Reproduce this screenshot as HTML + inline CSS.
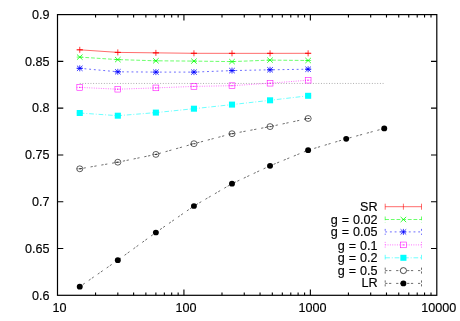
<!DOCTYPE html>
<html><head><meta charset="utf-8"><title>plot</title>
<style>html,body{margin:0;padding:0;background:#fff;width:460px;height:321px;overflow:hidden;font-family:"Liberation Sans",sans-serif}</style></head>
<body>
<svg width="460" height="321" viewBox="0 0 460 321" style="position:absolute;left:0;top:0;will-change:transform">
<rect width="460" height="321" fill="#fff"/>
<path d="M79.76,83.45H384.25" stroke="#000" stroke-opacity="0.75" stroke-width="0.45" stroke-dasharray="0.94,1.74" fill="none"/>
<polyline points="79.76,49.80 117.82,52.40 155.88,52.85 193.94,53.30 232.00,53.35 270.06,53.35 308.13,53.30" stroke="#ff0000" stroke-width="0.58" fill="none"/>
<polyline points="79.76,57.10 117.82,59.60 155.88,60.80 193.94,61.10 232.00,61.60 270.06,60.10 308.13,60.50" stroke="#00ff00" stroke-width="0.58" fill="none" stroke-dasharray="3.77,1.89"/>
<polyline points="79.76,68.30 117.82,71.80 155.88,72.10 193.94,72.10 232.00,70.60 270.06,69.80 308.13,69.20" stroke="#0000ff" stroke-width="0.58" fill="none" stroke-dasharray="1.89,2.83"/>
<polyline points="79.76,87.40 117.82,89.20 155.88,87.90 193.94,86.40 232.00,85.70 270.06,83.20 308.13,80.20" stroke="#ff00ff" stroke-width="0.58" fill="none" stroke-dasharray="0.94,1.41"/>
<polyline points="79.76,113.00 117.82,115.70 155.88,112.60 193.94,108.70 232.00,104.60 270.06,100.30 308.13,95.80" stroke="#00ffff" stroke-width="0.58" fill="none" stroke-dasharray="4.71,1.89,0.94,1.89"/>
<polyline points="79.76,168.80 117.82,162.20 155.88,154.40 193.94,143.70 232.00,133.70 270.06,126.60 308.13,118.50" stroke="#000000" stroke-width="0.58" fill="none" stroke-dasharray="2.25,1.6,2.25,4.84"/>
<polyline points="79.76,286.70 117.82,260.20 155.88,232.50 193.94,206.00 232.00,183.70 270.06,165.80 308.13,150.20 346.19,138.80 384.25,128.45" stroke="#000000" stroke-width="0.58" fill="none" stroke-dasharray="2.25,1.6,2.25,4.84"/>
<path d="M76.71,49.80h6.10M114.77,52.40h6.10M152.83,52.85h6.10M190.89,53.30h6.10M228.95,53.35h6.10M267.01,53.35h6.10M305.08,53.30h6.10" stroke="#ff0000" stroke-width="0.58" fill="none"/>
<path d="M76.71,57.10h6.10M114.77,59.60h6.10M152.83,60.80h6.10M190.89,61.10h6.10M228.95,61.60h6.10M267.01,60.10h6.10M305.08,60.50h6.10" stroke="#00ff00" stroke-width="0.58" fill="none"/>
<path d="M76.71,68.30h6.10M114.77,71.80h6.10M152.83,72.10h6.10M190.89,72.10h6.10M228.95,70.60h6.10M267.01,69.80h6.10M305.08,69.20h6.10" stroke="#0000ff" stroke-width="0.58" fill="none"/>
<path d="M76.71,87.40h6.10M114.77,89.20h6.10M152.83,87.90h6.10M190.89,86.40h6.10M228.95,85.70h6.10M267.01,83.20h6.10M305.08,80.20h6.10" stroke="#ff00ff" stroke-width="0.58" stroke-dasharray="0.94,1.41" fill="none"/>
<path d="M76.71,113.00h6.10M114.77,115.70h6.10M152.83,112.60h6.10M190.89,108.70h6.10M228.95,104.60h6.10M267.01,100.30h6.10M305.08,95.80h6.10" stroke="#00ffff" stroke-width="0.58" fill="none"/>
<path d="M76.71,168.80h6.10M114.77,162.20h6.10M152.83,154.40h6.10M190.89,143.70h6.10M228.95,133.70h6.10M267.01,126.60h6.10M305.08,118.50h6.10" stroke="#000000" stroke-width="0.5" stroke-dasharray="1.9,1.2" fill="none"/>
<path d="M76.71,49.80H82.81M79.76,46.80V52.80" stroke="#ff0000" stroke-width="0.78" fill="none"/>
<path d="M114.77,52.40H120.87M117.82,49.40V55.40" stroke="#ff0000" stroke-width="0.78" fill="none"/>
<path d="M152.83,52.85H158.93M155.88,49.85V55.85" stroke="#ff0000" stroke-width="0.78" fill="none"/>
<path d="M190.89,53.30H196.99M193.94,50.30V56.30" stroke="#ff0000" stroke-width="0.78" fill="none"/>
<path d="M228.95,53.35H235.05M232.00,50.35V56.35" stroke="#ff0000" stroke-width="0.78" fill="none"/>
<path d="M267.01,53.35H273.11M270.06,50.35V56.35" stroke="#ff0000" stroke-width="0.78" fill="none"/>
<path d="M305.08,53.30H311.18M308.13,50.30V56.30" stroke="#ff0000" stroke-width="0.78" fill="none"/>
<path d="M76.96,54.50L82.56,59.70M76.96,59.70L82.56,54.50" stroke="#00ff00" stroke-width="0.78" fill="none"/>
<path d="M115.02,57.00L120.62,62.20M115.02,62.20L120.62,57.00" stroke="#00ff00" stroke-width="0.78" fill="none"/>
<path d="M153.08,58.20L158.68,63.40M153.08,63.40L158.68,58.20" stroke="#00ff00" stroke-width="0.78" fill="none"/>
<path d="M191.14,58.50L196.74,63.70M191.14,63.70L196.74,58.50" stroke="#00ff00" stroke-width="0.78" fill="none"/>
<path d="M229.20,59.00L234.80,64.20M229.20,64.20L234.80,59.00" stroke="#00ff00" stroke-width="0.78" fill="none"/>
<path d="M267.26,57.50L272.86,62.70M267.26,62.70L272.86,57.50" stroke="#00ff00" stroke-width="0.78" fill="none"/>
<path d="M305.33,57.90L310.93,63.10M305.33,63.10L310.93,57.90" stroke="#00ff00" stroke-width="0.78" fill="none"/>
<path d="M76.71,68.30H82.81M79.76,65.30V71.30" stroke="#0000ff" stroke-width="0.78" fill="none"/><path d="M76.96,65.70L82.56,70.90M76.96,70.90L82.56,65.70" stroke="#0000ff" stroke-width="0.78" fill="none"/>
<path d="M114.77,71.80H120.87M117.82,68.80V74.80" stroke="#0000ff" stroke-width="0.78" fill="none"/><path d="M115.02,69.20L120.62,74.40M115.02,74.40L120.62,69.20" stroke="#0000ff" stroke-width="0.78" fill="none"/>
<path d="M152.83,72.10H158.93M155.88,69.10V75.10" stroke="#0000ff" stroke-width="0.78" fill="none"/><path d="M153.08,69.50L158.68,74.70M153.08,74.70L158.68,69.50" stroke="#0000ff" stroke-width="0.78" fill="none"/>
<path d="M190.89,72.10H196.99M193.94,69.10V75.10" stroke="#0000ff" stroke-width="0.78" fill="none"/><path d="M191.14,69.50L196.74,74.70M191.14,74.70L196.74,69.50" stroke="#0000ff" stroke-width="0.78" fill="none"/>
<path d="M228.95,70.60H235.05M232.00,67.60V73.60" stroke="#0000ff" stroke-width="0.78" fill="none"/><path d="M229.20,68.00L234.80,73.20M229.20,73.20L234.80,68.00" stroke="#0000ff" stroke-width="0.78" fill="none"/>
<path d="M267.01,69.80H273.11M270.06,66.80V72.80" stroke="#0000ff" stroke-width="0.78" fill="none"/><path d="M267.26,67.20L272.86,72.40M267.26,72.40L272.86,67.20" stroke="#0000ff" stroke-width="0.78" fill="none"/>
<path d="M305.08,69.20H311.18M308.13,66.20V72.20" stroke="#0000ff" stroke-width="0.78" fill="none"/><path d="M305.33,66.60L310.93,71.80M305.33,71.80L310.93,66.60" stroke="#0000ff" stroke-width="0.78" fill="none"/>
<rect x="76.86" y="84.55" width="5.8" height="5.7" stroke="#ff00ff" stroke-width="0.55" fill="none"/><rect x="79.26" y="86.90" width="1" height="1" fill="#ff00ff"/>
<rect x="114.92" y="86.35" width="5.8" height="5.7" stroke="#ff00ff" stroke-width="0.55" fill="none"/><rect x="117.32" y="88.70" width="1" height="1" fill="#ff00ff"/>
<rect x="152.98" y="85.05" width="5.8" height="5.7" stroke="#ff00ff" stroke-width="0.55" fill="none"/><rect x="155.38" y="87.40" width="1" height="1" fill="#ff00ff"/>
<rect x="191.04" y="83.55" width="5.8" height="5.7" stroke="#ff00ff" stroke-width="0.55" fill="none"/><rect x="193.44" y="85.90" width="1" height="1" fill="#ff00ff"/>
<rect x="229.10" y="82.85" width="5.8" height="5.7" stroke="#ff00ff" stroke-width="0.55" fill="none"/><rect x="231.50" y="85.20" width="1" height="1" fill="#ff00ff"/>
<rect x="267.16" y="80.35" width="5.8" height="5.7" stroke="#ff00ff" stroke-width="0.55" fill="none"/><rect x="269.56" y="82.70" width="1" height="1" fill="#ff00ff"/>
<rect x="305.23" y="77.35" width="5.8" height="5.7" stroke="#ff00ff" stroke-width="0.55" fill="none"/><rect x="307.63" y="79.70" width="1" height="1" fill="#ff00ff"/>
<rect x="76.71" y="110.00" width="6.1" height="6.00" fill="#00ffff"/>
<rect x="114.77" y="112.70" width="6.1" height="6.00" fill="#00ffff"/>
<rect x="152.83" y="109.60" width="6.1" height="6.00" fill="#00ffff"/>
<rect x="190.89" y="105.70" width="6.1" height="6.00" fill="#00ffff"/>
<rect x="228.95" y="101.60" width="6.1" height="6.00" fill="#00ffff"/>
<rect x="267.01" y="97.30" width="6.1" height="6.00" fill="#00ffff"/>
<rect x="305.08" y="92.80" width="6.1" height="6.00" fill="#00ffff"/>
<ellipse cx="79.76" cy="168.80" rx="3.05" ry="2.95" stroke="#000000" stroke-width="0.62" fill="none"/><rect x="79.26" y="168.30" width="1" height="1" fill="#000000"/>
<ellipse cx="117.82" cy="162.20" rx="3.05" ry="2.95" stroke="#000000" stroke-width="0.62" fill="none"/><rect x="117.32" y="161.70" width="1" height="1" fill="#000000"/>
<ellipse cx="155.88" cy="154.40" rx="3.05" ry="2.95" stroke="#000000" stroke-width="0.62" fill="none"/><rect x="155.38" y="153.90" width="1" height="1" fill="#000000"/>
<ellipse cx="193.94" cy="143.70" rx="3.05" ry="2.95" stroke="#000000" stroke-width="0.62" fill="none"/><rect x="193.44" y="143.20" width="1" height="1" fill="#000000"/>
<ellipse cx="232.00" cy="133.70" rx="3.05" ry="2.95" stroke="#000000" stroke-width="0.62" fill="none"/><rect x="231.50" y="133.20" width="1" height="1" fill="#000000"/>
<ellipse cx="270.06" cy="126.60" rx="3.05" ry="2.95" stroke="#000000" stroke-width="0.62" fill="none"/><rect x="269.56" y="126.10" width="1" height="1" fill="#000000"/>
<ellipse cx="308.13" cy="118.50" rx="3.05" ry="2.95" stroke="#000000" stroke-width="0.62" fill="none"/><rect x="307.63" y="118.00" width="1" height="1" fill="#000000"/>
<ellipse cx="79.76" cy="286.70" rx="2.95" ry="2.85" fill="#000000"/>
<ellipse cx="117.82" cy="260.20" rx="2.95" ry="2.85" fill="#000000"/>
<ellipse cx="155.88" cy="232.50" rx="2.95" ry="2.85" fill="#000000"/>
<ellipse cx="193.94" cy="206.00" rx="2.95" ry="2.85" fill="#000000"/>
<ellipse cx="232.00" cy="183.70" rx="2.95" ry="2.85" fill="#000000"/>
<ellipse cx="270.06" cy="165.80" rx="2.95" ry="2.85" fill="#000000"/>
<ellipse cx="308.13" cy="150.20" rx="2.95" ry="2.85" fill="#000000"/>
<ellipse cx="346.19" cy="138.80" rx="2.95" ry="2.85" fill="#000000"/>
<ellipse cx="384.25" cy="128.45" rx="2.95" ry="2.85" fill="#000000"/>
<rect x="57.5" y="14.6" width="379.30" height="280.70" stroke="#000" stroke-width="1.2" fill="none"/>
<path d="M95.56,295.3v-2.9M95.56,14.6v2.9M117.82,295.3v-2.9M117.82,14.6v2.9M133.62,295.3v-2.9M133.62,14.6v2.9M145.87,295.3v-2.9M145.87,14.6v2.9M155.88,295.3v-2.9M155.88,14.6v2.9M164.35,295.3v-2.9M164.35,14.6v2.9M171.68,295.3v-2.9M171.68,14.6v2.9M178.15,295.3v-2.9M178.15,14.6v2.9M183.93,295.3v-5.8M183.93,14.6v5.8M221.99,295.3v-2.9M221.99,14.6v2.9M244.26,295.3v-2.9M244.26,14.6v2.9M260.05,295.3v-2.9M260.05,14.6v2.9M272.31,295.3v-2.9M272.31,14.6v2.9M282.32,295.3v-2.9M282.32,14.6v2.9M290.78,295.3v-2.9M290.78,14.6v2.9M298.11,295.3v-2.9M298.11,14.6v2.9M304.58,295.3v-2.9M304.58,14.6v2.9M310.37,295.3v-5.8M310.37,14.6v5.8M348.43,295.3v-2.9M348.43,14.6v2.9M370.69,295.3v-2.9M370.69,14.6v2.9M386.49,295.3v-2.9M386.49,14.6v2.9M398.74,295.3v-2.9M398.74,14.6v2.9M408.75,295.3v-2.9M408.75,14.6v2.9M417.22,295.3v-2.9M417.22,14.6v2.9M424.55,295.3v-2.9M424.55,14.6v2.9M431.01,295.3v-2.9M431.01,14.6v2.9M57.5,248.52h5.8M436.8,248.52h-5.8M57.5,201.73h5.8M436.8,201.73h-5.8M57.5,154.95h5.8M436.8,154.95h-5.8M57.5,108.17h5.8M436.8,108.17h-5.8M57.5,61.38h5.8M436.8,61.38h-5.8" stroke="#000" stroke-width="1.1" fill="none"/>
<text x="49.5" y="299.5" text-anchor="end" font-family="Liberation Sans, sans-serif" font-size="12.6" fill="#000" stroke="#000" stroke-width="0.15">0.6</text>
<text x="49.5" y="252.7" text-anchor="end" font-family="Liberation Sans, sans-serif" font-size="12.6" fill="#000" stroke="#000" stroke-width="0.15">0.65</text>
<text x="49.5" y="205.9" text-anchor="end" font-family="Liberation Sans, sans-serif" font-size="12.6" fill="#000" stroke="#000" stroke-width="0.15">0.7</text>
<text x="49.5" y="159.1" text-anchor="end" font-family="Liberation Sans, sans-serif" font-size="12.6" fill="#000" stroke="#000" stroke-width="0.15">0.75</text>
<text x="49.5" y="112.4" text-anchor="end" font-family="Liberation Sans, sans-serif" font-size="12.6" fill="#000" stroke="#000" stroke-width="0.15">0.8</text>
<text x="49.5" y="65.6" text-anchor="end" font-family="Liberation Sans, sans-serif" font-size="12.6" fill="#000" stroke="#000" stroke-width="0.15">0.85</text>
<text x="49.5" y="18.8" text-anchor="end" font-family="Liberation Sans, sans-serif" font-size="12.6" fill="#000" stroke="#000" stroke-width="0.15">0.9</text>
<text x="59.5" y="312.2" text-anchor="middle" font-family="Liberation Sans, sans-serif" font-size="12.6" fill="#000" stroke="#000" stroke-width="0.15">10</text>
<text x="185.9" y="312.2" text-anchor="middle" font-family="Liberation Sans, sans-serif" font-size="12.6" fill="#000" stroke="#000" stroke-width="0.15">100</text>
<text x="312.4" y="312.2" text-anchor="middle" font-family="Liberation Sans, sans-serif" font-size="12.6" fill="#000" stroke="#000" stroke-width="0.15">1000</text>
<text x="438.8" y="312.2" text-anchor="middle" font-family="Liberation Sans, sans-serif" font-size="12.6" fill="#000" stroke="#000" stroke-width="0.15">10000</text>
<text word-spacing="0.45" x="377.5" y="210.6" text-anchor="end" font-family="Liberation Sans, sans-serif" font-size="12.6" fill="#000" stroke="#000" stroke-width="0.15">SR</text>
<path d="M385.2,206.7H421.5M385.2,203.7v6M421.5,203.7v6" stroke="#ff0000" stroke-width="0.58" fill="none"/>
<path d="M403.4,203.7v6" stroke="#ff0000" stroke-width="0.58" fill="none"/>
<text word-spacing="0.45" x="377.5" y="224.3" text-anchor="end" font-family="Liberation Sans, sans-serif" font-size="12.6" fill="#000" stroke="#000" stroke-width="0.15">g = 0.02</text>
<path d="M385.2,219.5H421.5M385.2,216.5v6M421.5,216.5v6" stroke="#00ff00" stroke-width="0.58" fill="none" stroke-dasharray="3.77,1.89"/>
<path d="M400.60,216.90L406.20,222.10M400.60,222.10L406.20,216.90" stroke="#00ff00" stroke-width="0.78" fill="none"/>
<text word-spacing="0.45" x="377.5" y="236.2" text-anchor="end" font-family="Liberation Sans, sans-serif" font-size="12.6" fill="#000" stroke="#000" stroke-width="0.15">g = 0.05</text>
<path d="M385.2,231.9H421.5M385.2,228.9v6M421.5,228.9v6" stroke="#0000ff" stroke-width="0.58" fill="none" stroke-dasharray="1.89,2.83"/>
<path d="M400.35,231.90H406.45M403.40,228.90V234.90" stroke="#0000ff" stroke-width="0.78" fill="none"/><path d="M400.60,229.30L406.20,234.50M400.60,234.50L406.20,229.30" stroke="#0000ff" stroke-width="0.78" fill="none"/>
<text word-spacing="0.45" x="377.5" y="249.8" text-anchor="end" font-family="Liberation Sans, sans-serif" font-size="12.6" fill="#000" stroke="#000" stroke-width="0.15">g = 0.1</text>
<path d="M385.2,244.9H421.5M385.2,241.9v6M421.5,241.9v6" stroke="#ff00ff" stroke-width="0.58" fill="none" stroke-dasharray="0.94,1.41"/>
<rect x="400.50" y="242.05" width="5.8" height="5.7" stroke="#ff00ff" stroke-width="0.55" fill="none"/><rect x="402.90" y="244.40" width="1" height="1" fill="#ff00ff"/>
<text word-spacing="0.45" x="377.5" y="261.5" text-anchor="end" font-family="Liberation Sans, sans-serif" font-size="12.6" fill="#000" stroke="#000" stroke-width="0.15">g = 0.2</text>
<path d="M385.2,257.8H421.5M385.2,254.8v6M421.5,254.8v6" stroke="#00ffff" stroke-width="0.58" fill="none" stroke-dasharray="4.71,1.89,0.94,1.89"/>
<rect x="400.35" y="254.80" width="6.1" height="6.00" fill="#00ffff"/>
<text word-spacing="0.45" x="377.5" y="275.1" text-anchor="end" font-family="Liberation Sans, sans-serif" font-size="12.6" fill="#000" stroke="#000" stroke-width="0.15">g = 0.5</text>
<path d="M385.2,270.6H421.5M385.2,267.6v6M421.5,267.6v6" stroke="#000000" stroke-width="0.58" fill="none" stroke-dasharray="2.25,1.6,2.25,4.84"/>
<ellipse cx="403.4" cy="270.6" rx="3.1" ry="3.00" stroke="#000" stroke-width="0.7" fill="#fff"/>
<text word-spacing="0.45" x="377.5" y="287.2" text-anchor="end" font-family="Liberation Sans, sans-serif" font-size="12.6" fill="#000" stroke="#000" stroke-width="0.15">LR</text>
<path d="M385.2,283.4H421.5M385.2,280.4v6M421.5,280.4v6" stroke="#000000" stroke-width="0.58" fill="none" stroke-dasharray="2.25,1.6,2.25,4.84"/>
<ellipse cx="403.40" cy="283.40" rx="2.95" ry="2.85" fill="#000000"/>
</svg>
</body></html>
